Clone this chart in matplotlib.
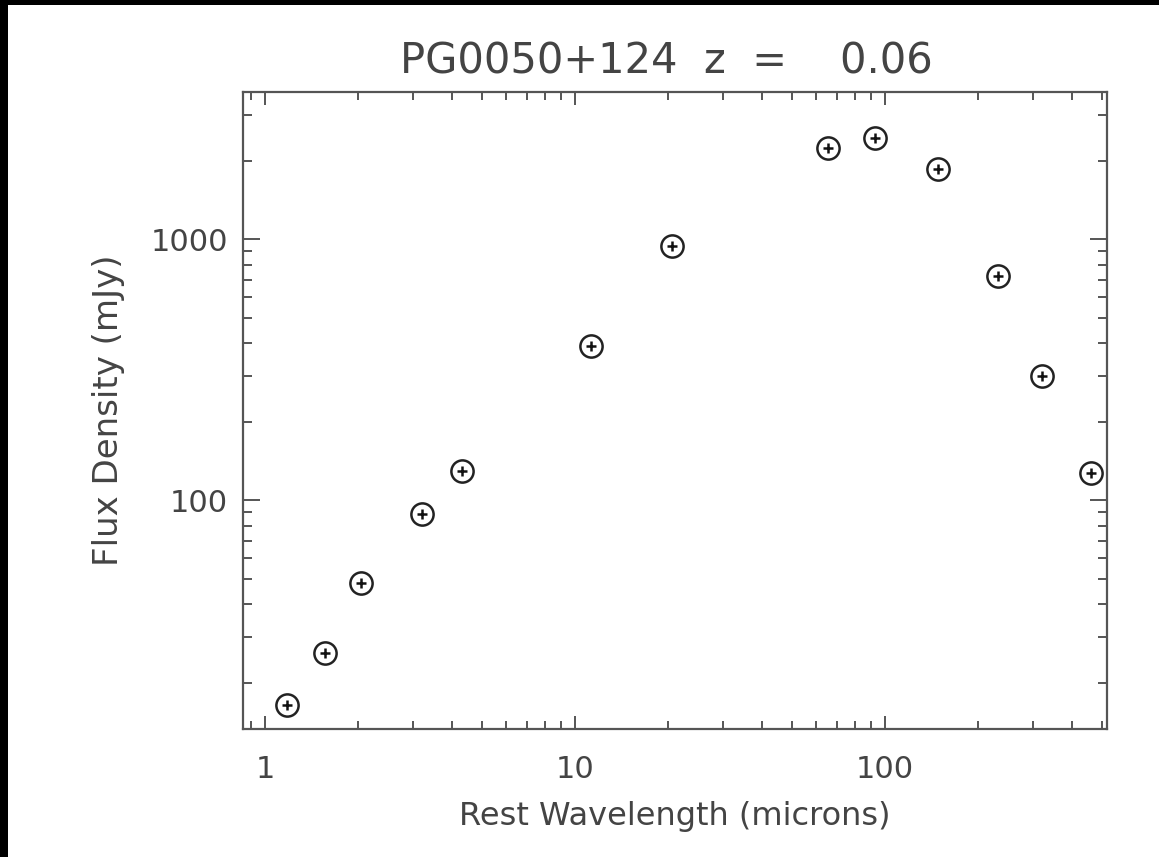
import matplotlib
matplotlib.use("Agg")
import matplotlib.pyplot as plt
from matplotlib.patches import Rectangle
from matplotlib.ticker import LogLocator, NullFormatter, FixedLocator, FixedFormatter

wavelength = [1.18, 1.56, 2.04, 3.21, 4.32, 11.3, 20.6, 65.3, 92.9, 148.6, 232, 321, 461]
flux = [16.5, 25.9, 48.1, 88.4, 130, 389, 943, 2245, 2438, 1857, 726, 299, 127]

x_ticks = [1, 10, 100]
x_tick_labels = ["1", "10", "100"]
y_ticks = [100, 1000]
y_tick_labels = ["100", "1000"]

title = "PG0050+124  z  =    0.06"
x_label = "Rest Wavelength (microns)"
y_label = "Flux Density (mJy)"

ink = "#444444"

fig = plt.figure(figsize=(11.59, 8.57), dpi=100)
fig.patch.set_facecolor("white")
ax = fig.add_axes([243 / 1159, 1 - 729 / 857, (1107 - 243) / 1159, (729 - 92) / 857])

ax.plot(wavelength, flux, linestyle="none", marker="o", markersize=16,
        markerfacecolor="none", markeredgecolor="#222222", markeredgewidth=1.8)
ax.plot(wavelength, flux, linestyle="none", marker="+", markersize=7,
        markeredgecolor="#111111", markeredgewidth=1.8)

ax.set_xscale("log")
ax.set_yscale("log")
ax.set_xlim(0.849, 520)
ax.set_ylim(13.3, 3664)

for axis, ticks, labels in ((ax.xaxis, x_ticks, x_tick_labels), (ax.yaxis, y_ticks, y_tick_labels)):
    axis.set_major_locator(FixedLocator(ticks))
    axis.set_major_formatter(FixedFormatter(labels))
    axis.set_minor_locator(LogLocator(base=10, subs=range(2, 10)))
    axis.set_minor_formatter(NullFormatter())

ax.tick_params(which="both", direction="in", top=True, right=True, color="#555555", width=1.4)
ax.tick_params(axis="x", which="major", length=9.5, pad=19, labelsize=22, labelcolor=ink)
ax.tick_params(axis="x", which="minor", length=5.5)
ax.tick_params(axis="y", which="major", length=12.5, pad=11, labelsize=22, labelcolor=ink)
ax.tick_params(axis="y", which="minor", length=6.5)
for spine in ax.spines.values():
    spine.set_color("#555555")
    spine.set_linewidth(1.6)

ax.set_xlabel(x_label, fontsize=23, color=ink, labelpad=12)
ax.set_ylabel(y_label, fontsize=24.5, color=ink, labelpad=18)
fig.text(666 / 1159, 1 - 62 / 857, title, fontsize=30, color=ink, ha="center", va="center")

# black frame strips at the left and top edges of the screenshot
fig.patches.append(Rectangle((0, 0), 8 / 1159, 1, transform=fig.transFigure,
                             facecolor="black", edgecolor="none", zorder=10))
fig.patches.append(Rectangle((0, 1 - 5 / 857), 1, 5 / 857, transform=fig.transFigure,
                             facecolor="black", edgecolor="none", zorder=10))

fig.savefig("out.png", dpi=100)
